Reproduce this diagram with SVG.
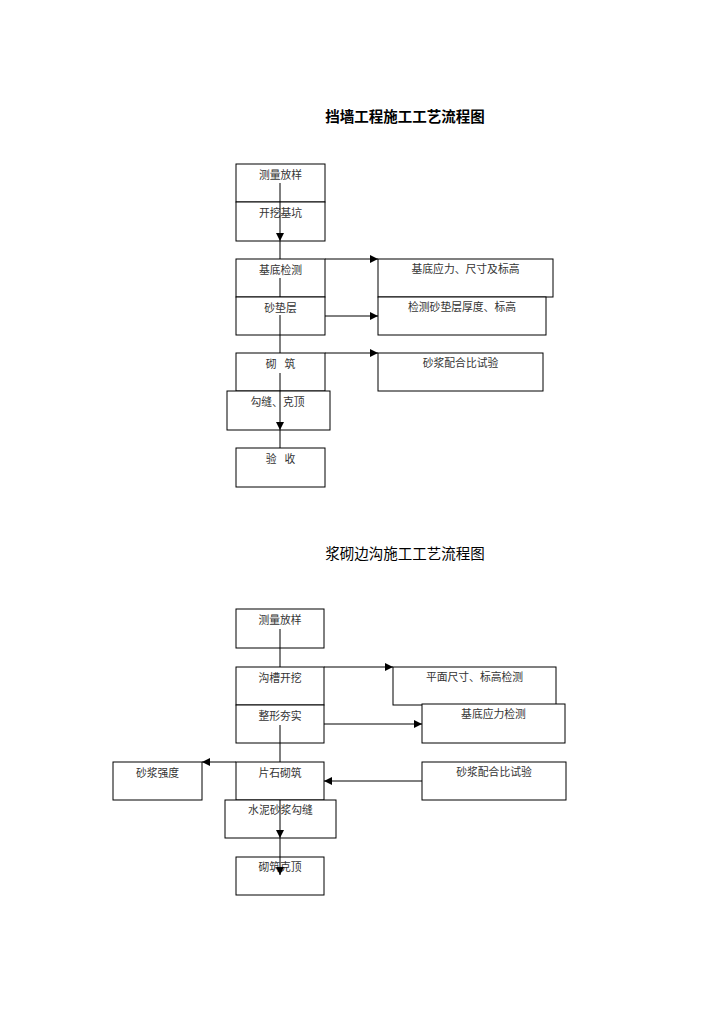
<svg xmlns="http://www.w3.org/2000/svg" width="724" height="1024" viewBox="0 0 724 1024">
<style>
.b{fill:#fff;stroke:#000;stroke-width:1}
.t{font-family:"Liberation Sans","Noto Sans CJK SC",sans-serif;font-size:10.8px;fill:#333;text-anchor:middle}
.h{font-family:"Liberation Sans","Noto Sans CJK SC",sans-serif;font-size:14.5px;fill:#000;text-anchor:middle}
.c{stroke:#000;stroke-width:1;fill:none}
</style>
<defs>
<marker id="a" markerUnits="userSpaceOnUse" markerWidth="9" markerHeight="8" refX="8" refY="4" orient="auto">
<path d="M0,0 L8,4 L0,8 Z" fill="#000"/>
</marker>
</defs>
<rect width="724" height="1024" fill="#fff"/>
<text class="h" x="405" y="122" font-weight="bold">挡墙工程施工工艺流程图</text>
<text class="h" x="405" y="559">浆砌边沟施工工艺流程图</text>

<g id="n1"><rect class="b" x="236" y="164" width="89" height="38"/><text class="t" x="280.5" y="179">测量放样</text></g>
<g id="n2"><rect class="b" x="236" y="202" width="89" height="39"/><text class="t" x="280.5" y="217">开挖基坑</text></g>
<g id="n3"><rect class="b" x="236" y="259" width="89" height="38"/><text class="t" x="280.5" y="274">基底检测</text></g>
<g id="n4"><rect class="b" x="236" y="297" width="89" height="38"/><text class="t" x="280.5" y="312">砂垫层</text></g>
<g id="n5"><rect class="b" x="236" y="353" width="89" height="38"/><text class="t" x="280.5" y="368" word-spacing="5">砌 筑</text></g>
<g id="n6"><rect class="b" x="227" y="391" width="103" height="39"/><text class="t" x="277.5" y="406">勾缝、克顶</text></g>
<g id="n7"><rect class="b" x="236" y="448" width="89" height="39"/><text class="t" x="280.5" y="463" word-spacing="5">验 收</text></g>
<g id="n8"><rect class="b" x="378" y="259" width="175" height="38"/><text class="t" x="465.5" y="273">基底应力、尺寸及标高</text></g>
<g id="n9"><rect class="b" x="378" y="297" width="168" height="38"/><text class="t" x="462" y="311">检测砂垫层厚度、标高</text></g>
<g id="n10"><rect class="b" x="378" y="353" width="165" height="38"/><text class="t" x="460.5" y="367">砂浆配合比试验</text></g>

<g id="m1"><rect class="b" x="236" y="609" width="88" height="39"/><text class="t" x="280" y="624">测量放样</text></g>
<g id="m2"><rect class="b" x="236" y="667" width="88" height="38"/><text class="t" x="280" y="682">沟槽开挖</text></g>
<g id="m3"><rect class="b" x="236" y="705" width="88" height="38"/><text class="t" x="280" y="720">整形夯实</text></g>
<g id="m4"><rect class="b" x="236" y="762" width="88" height="38"/><text class="t" x="280" y="777">片石砌筑</text></g>
<g id="m5"><rect class="b" x="225" y="800" width="111" height="38"/><text class="t" x="280.5" y="814">水泥砂浆勾缝</text></g>
<g id="m6"><rect class="b" x="236" y="857" width="88" height="38"/><text class="t" x="280" y="871">砌筑克顶</text></g>
<g id="m7"><rect class="b" x="393" y="667" width="163" height="38"/><text class="t" x="474.5" y="681">平面尺寸、标高检测</text></g>
<g id="m8"><rect class="b" x="422" y="704" width="143" height="39"/><text class="t" x="493.5" y="718">基底应力检测</text></g>
<g id="m9"><rect class="b" x="422" y="762" width="144" height="38"/><text class="t" x="494" y="776">砂浆配合比试验</text></g>
<g id="m10"><rect class="b" x="113" y="762" width="89" height="38"/><text class="t" x="157.5" y="777">砂浆强度</text></g>

<g id="connectors">
<line class="c" x1="280" y1="183" x2="280" y2="241" marker-end="url(#a)"/>
<line class="c" x1="280" y1="241" x2="280" y2="259"/>
<line class="c" x1="280" y1="278" x2="280" y2="297"/>
<line class="c" x1="280" y1="315" x2="280" y2="353"/>
<line class="c" x1="280" y1="373" x2="280" y2="430" marker-end="url(#a)"/>
<line class="c" x1="280" y1="430" x2="280" y2="448"/>
<line class="c" x1="325" y1="259" x2="378" y2="259" marker-end="url(#a)"/>
<line class="c" x1="325" y1="316" x2="378" y2="316" marker-end="url(#a)"/>
<line class="c" x1="325" y1="353" x2="378" y2="353" marker-end="url(#a)"/>

<line class="c" x1="280" y1="629" x2="280" y2="667"/>
<line class="c" x1="280" y1="725" x2="280" y2="762"/>
<line class="c" x1="280" y1="800" x2="280" y2="838" marker-end="url(#a)"/>
<line class="c" x1="280" y1="838" x2="280" y2="875" marker-end="url(#a)"/>
<line class="c" x1="324" y1="667" x2="393" y2="667" marker-end="url(#a)"/>
<line class="c" x1="324" y1="724" x2="422" y2="724" marker-end="url(#a)"/>
<line class="c" x1="422" y1="781" x2="324" y2="781" marker-end="url(#a)"/>
<line class="c" x1="236" y1="762" x2="202" y2="762" marker-end="url(#a)"/>
</g>
</svg>
